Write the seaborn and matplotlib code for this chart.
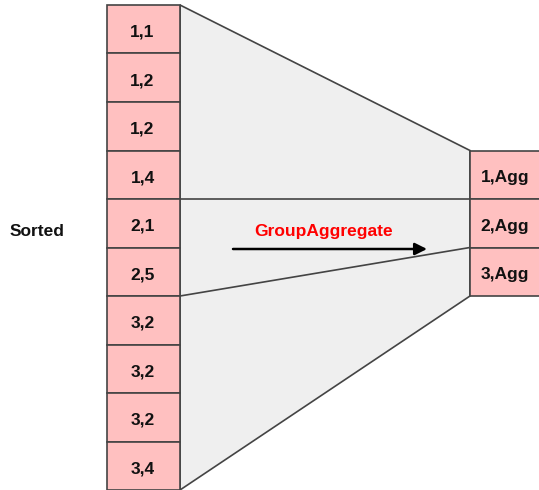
import seaborn as sns
import matplotlib.pyplot as plt
from matplotlib.patches import Rectangle, Polygon

sns.set_theme(style="white")
plt.rcParams["font.family"] = ["Liberation Sans", "DejaVu Sans"]

# sorted input rows (group key, value) and aggregated output rows
sorted_keys = [1, 1, 1, 1, 2, 2, 3, 3, 3, 3]
sorted_vals = [1, 2, 2, 4, 1, 5, 2, 2, 2, 4]
agg_keys = [1, 2, 3]
agg_labels = [f"{k},Agg" for k in agg_keys]
op_label = "GroupAggregate"
side_label = "Sorted"

PINK = "#ffc0c0"
GRAY = "#efefef"
EDGE = "#444444"

fig = plt.figure(figsize=(5.39, 4.90), dpi=100)
ax = fig.add_axes([0, 0, 1, 1])
ax.set_xlim(0, 539)
ax.set_ylim(490, 0)
ax.axis("off")

h = 48.5
left_x0, left_x1 = 107, 180
right_x0, right_x1 = 470, 560
top = 5
right_top = top + 3 * h
txt_dy = 3  # labels sit a bit below the cell centre


def left_y(i):
    return top + i * h


def right_y(i):
    return right_top + i * h


# grey funnel between the two columns
n = len(sorted_keys)
ax.add_patch(Polygon([(left_x1, left_y(0)), (right_x0, right_y(0)),
                      (right_x0, right_y(len(agg_keys))), (left_x1, left_y(n))],
                     closed=True, facecolor=GRAY, edgecolor=EDGE, lw=1.2, zorder=1))

# group boundary lines
for gi, k in enumerate(agg_keys[:-1]):
    last = max(i for i, kk in enumerate(sorted_keys) if kk == k) + 1
    ax.plot([left_x1, right_x0], [left_y(last), right_y(gi + 1)],
            color=EDGE, lw=1.2, zorder=2)

# left column cells
for i, (k, v) in enumerate(zip(sorted_keys, sorted_vals)):
    ax.add_patch(Rectangle((left_x0, left_y(i)), left_x1 - left_x0, h,
                           facecolor=PINK, edgecolor=EDGE, lw=1.2, zorder=3))
    ax.text((left_x0 + left_x1) / 2 - 1, left_y(i) + h / 2 + txt_dy, f"{k},{v}",
            ha="center", va="center", fontsize=12.5, fontweight="bold",
            color="#111111", zorder=4)

# right column cells
for i, lab in enumerate(agg_labels):
    ax.add_patch(Rectangle((right_x0, right_y(i)), right_x1 - right_x0, h,
                           facecolor=PINK, edgecolor=EDGE, lw=1.2, zorder=3))
    ax.text(505, right_y(i) + h / 2 + txt_dy, lab,
            ha="center", va="center", fontsize=12.5, fontweight="bold",
            color="#111111", zorder=4)

# operator arrow and label
ax.annotate("", xy=(427, 249), xytext=(233, 249),
            arrowprops=dict(arrowstyle="-|>", color="black", lw=1.8,
                            mutation_scale=18, shrinkA=0, shrinkB=0), zorder=5)
ax.text(324, 231, op_label, ha="center", va="center", fontsize=12.5,
        fontweight="bold", color="#ff0000", zorder=5)

ax.text(10, 231, side_label, ha="left", va="center", fontsize=12.5,
        fontweight="bold", color="#111111")

fig.savefig("out.png", dpi=100)
